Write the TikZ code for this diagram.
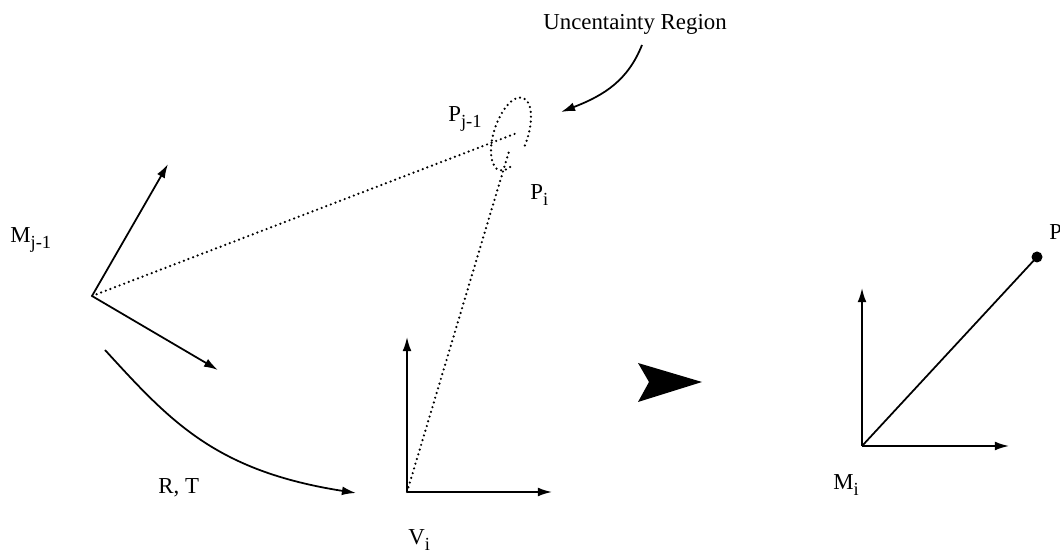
\documentclass[tikz,border=0pt]{standalone}
\usepackage{fontspec}
\setmainfont{Liberation Serif}
\usetikzlibrary{arrows.meta}
\newcommand{\lsub}[1]{\raisebox{-3.2pt}{\fontsize{10.5}{12}\selectfont #1}}
\tikzset{
  ax/.style={line width=1pt, -{Latex[length=8pt,width=5pt]}},
  dots/.style={line width=1.4pt, dash pattern=on 0pt off 2.8pt, line cap=round},
  lbl/.style={inner sep=0pt, anchor=base west, font=\fontsize{13}{15}\selectfont},
}
\begin{document}
\begin{tikzpicture}[x=0.02cm,y=0.02cm]
\useasboundingbox (0,0) rectangle (1060,553);
% frame M_{j-1}
\coordinate (Mo) at (92,257);
\coordinate (Mx) at (218,183);
\coordinate (My) at (168,389);
\draw[ax] (Mo) -- (Mx);
\draw[ax] (Mo) -- (My);
% frame V_i
\coordinate (Vo) at (407,61);
\coordinate (Vx) at (552,61);
\coordinate (Vy) at (407,216);
\draw[ax] (Vo) -- (Vx);
\draw[ax] (Vo) -- (Vy);
% frame M_i
\coordinate (Nio) at (862,107);
\coordinate (Nix) at (1009,107);
\coordinate (Niy) at (862,265);
\draw[ax] (Nio) -- (Nix);
\draw[ax] (Nio) -- (Niy);
% point P
\coordinate (Pd) at (1037,296);
\draw[line width=1pt] (Nio) -- (Pd);
\fill (Pd) circle[radius=5.5];
% points P_{j-1}, P_i and dotted lines
\coordinate (Pj1) at (517,420);
\coordinate (Pj) at (510,405);
\draw[dots] (Mo) -- (Pj1);
\draw[dots] (Vo) -- (Pj);
% uncertainty region
\begin{scope}[shift={(511,419)}, rotate=72]
\draw[dots] (-100:38 and 17) arc[start angle=-100, end angle=215, x radius=38, y radius=17];
\end{scope}
% R,T curve
\coordinate (Rs) at (105,203);
\coordinate (Re) at (356,60);
\draw[ax] (Rs) .. controls (170,132) and (215,82) .. (Re);
% uncertainty arrow
\coordinate (Us) at (642,508);
\coordinate (Ue) at (561,441);
\draw[ax] (Us) .. controls (628,473) and (605,458) .. (Ue);
% big arrowhead
\fill (702,171) -- (638,190) -- (649,171) -- (638,151) -- cycle;
% labels
\node[lbl] (lM1) at (10,310) {M\lsub{j-1}};
\node[lbl] (lP1) at (448,431) {P\lsub{j-1}};
\node[lbl] (lPi) at (530,353) {P\lsub{i}};
\node[lbl] (lRT) at (158,59) {R, T};
\node[lbl] (lVi) at (408,8) {V\lsub{i}};
\node[lbl] (lMi) at (833,63) {M\lsub{i}};
\node[lbl] (lP) at (1049,313) {P};
\node[lbl] (lU) at (543,523) {Uncentainty Region};
\end{tikzpicture}
\end{document}
